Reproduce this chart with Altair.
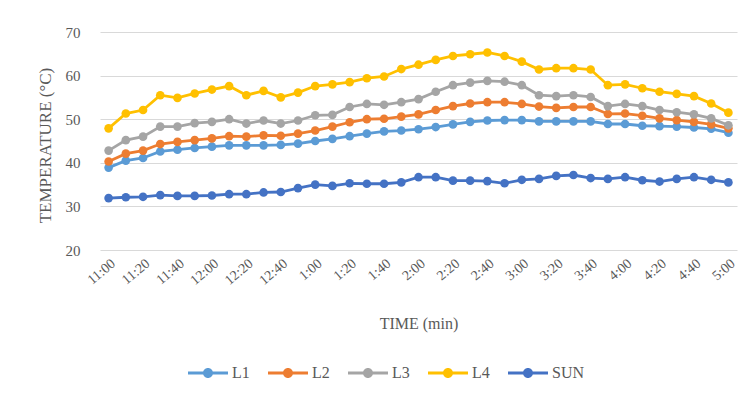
import altair as alt
import pandas as pd

times = ["11:00", "11:10", "11:20", "11:30", "11:40", "11:50",
         "12:00", "12:10", "12:20", "12:30", "12:40", "12:50",
         "1:00", "1:10", "1:20", "1:30", "1:40", "1:50",
         "2:00", "2:10", "2:20", "2:30", "2:40", "2:50",
         "3:00", "3:10", "3:20", "3:30", "3:40", "3:50",
         "4:00", "4:10", "4:20", "4:30", "4:40", "4:50", "5:00"]

L1 = [38.9, 40.5, 41.1, 42.6, 43.0, 43.4, 43.7, 44.0, 44.0, 44.0, 44.1, 44.4,
      45.0, 45.5, 46.1, 46.7, 47.2, 47.4, 47.7, 48.2, 48.8, 49.4, 49.7, 49.8,
      49.8, 49.5, 49.5, 49.5, 49.5, 48.9, 48.9, 48.5, 48.4, 48.3, 48.1, 47.8, 46.9]
L2 = [40.3, 42.1, 42.8, 44.3, 44.8, 45.2, 45.6, 46.1, 46.0, 46.3, 46.2, 46.7,
      47.4, 48.3, 49.3, 50.0, 50.1, 50.6, 51.1, 52.1, 53.0, 53.6, 53.9, 53.9,
      53.5, 52.9, 52.6, 52.8, 52.8, 51.2, 51.3, 50.8, 50.2, 49.8, 49.4, 48.8, 47.9]
L3 = [42.8, 45.2, 46.0, 48.3, 48.3, 49.1, 49.4, 50.0, 49.0, 49.7, 49.0, 49.7,
      50.9, 51.0, 52.8, 53.5, 53.3, 53.9, 54.6, 56.3, 57.8, 58.4, 58.8, 58.6,
      57.8, 55.5, 55.3, 55.5, 55.1, 53.0, 53.5, 53.0, 52.1, 51.6, 51.1, 50.2, 48.6]
L4 = [47.9, 51.3, 52.1, 55.5, 54.9, 55.9, 56.8, 57.6, 55.5, 56.5, 55.0, 56.1,
      57.6, 58.0, 58.5, 59.4, 59.8, 61.5, 62.5, 63.6, 64.5, 64.9, 65.3, 64.5,
      63.2, 61.4, 61.7, 61.7, 61.4, 57.8, 58.0, 57.1, 56.3, 55.8, 55.3, 53.6, 51.5]
SUN = [31.9, 32.1, 32.2, 32.6, 32.4, 32.4, 32.5, 32.8, 32.8, 33.2, 33.3, 34.2,
       35.0, 34.7, 35.3, 35.2, 35.2, 35.5, 36.7, 36.7, 35.9, 35.9, 35.8, 35.3,
       36.1, 36.3, 37.0, 37.2, 36.5, 36.3, 36.7, 36.0, 35.7, 36.3, 36.7, 36.1, 35.5]

series_names = ["L1", "L2", "L3", "L4", "SUN"]
series_values = [L1, L2, L3, L4, SUN]
colors = ["#5B9BD5", "#ED7D31", "#A5A5A5", "#FFC000", "#4472C4"]
tick_labels = times[::2]

rows = []
for name, vals in zip(series_names, series_values):
    for t, v in zip(times, vals):
        rows.append({"time": t, "series": name, "value": v})
df = pd.DataFrame(rows)

FONT = "Liberation Serif"
legend_symbol = ("M-1,-0.08 L1,-0.08 L1,0.08 L-1,0.08 Z "
                 "M0.25,0 A0.25,0.25 0 1,1 -0.25,0 A0.25,0.25 0 1,1 0.25,0 Z")

chart = alt.Chart(df).mark_line(
    point=alt.OverlayMarkDef(filled=True, size=75, opacity=1),
    strokeWidth=2.8,
).encode(
    x=alt.X("time:O", sort=times,
            scale=alt.Scale(type="point", padding=0.5),
            axis=alt.Axis(values=tick_labels, labelAngle=-40, grid=False,
                          domain=False, ticks=False, labelFont=FONT,
                          labelFontSize=14, labelColor="#595959", labelPadding=6,
                          title="TIME (min)", titleFont=FONT, titleFontSize=16,
                          titleFontWeight="normal", titleColor="#595959",
                          titleY=73, titleBaseline="middle")),
    y=alt.Y("value:Q", scale=alt.Scale(domain=[20, 70], nice=False, zero=False),
            axis=alt.Axis(values=[20, 30, 40, 50, 60, 70], grid=True,
                          gridColor="#D9D9D9", gridWidth=1, domain=False,
                          ticks=False, labelFont=FONT, labelFontSize=15,
                          labelColor="#595959", labelPadding=20,
                          title="TEMPERATURE (°C)", titleFont=FONT,
                          titleFontSize=17, titleFontWeight="normal",
                          titleColor="#595959", titleX=-55, titleY=113,
                          titleBaseline="middle", titleAlign="center")),
    color=alt.Color("series:N", sort=series_names,
                    scale=alt.Scale(domain=series_names, range=colors),
                    legend=alt.Legend(title=None, orient="none", direction="horizontal",
                                      legendX=88, legendY=321, columns=5,
                                      gridAlign="all", columnPadding=3,
                                      symbolType=legend_symbol, symbolSize=1600,
                                      symbolStrokeWidth=0, labelFont=FONT,
                                      labelFontSize=16, labelColor="#595959",
                                      labelOffset=4)),
).properties(
    width=637, height=218,
    background="white",
    autosize=alt.AutoSizeParams(type="none"),
    padding={"left": 92, "top": 24, "right": 9, "bottom": 136},
).configure_view(stroke=None)

chart.save("out.html", embed_options={"renderer": "svg", "actions": False})
